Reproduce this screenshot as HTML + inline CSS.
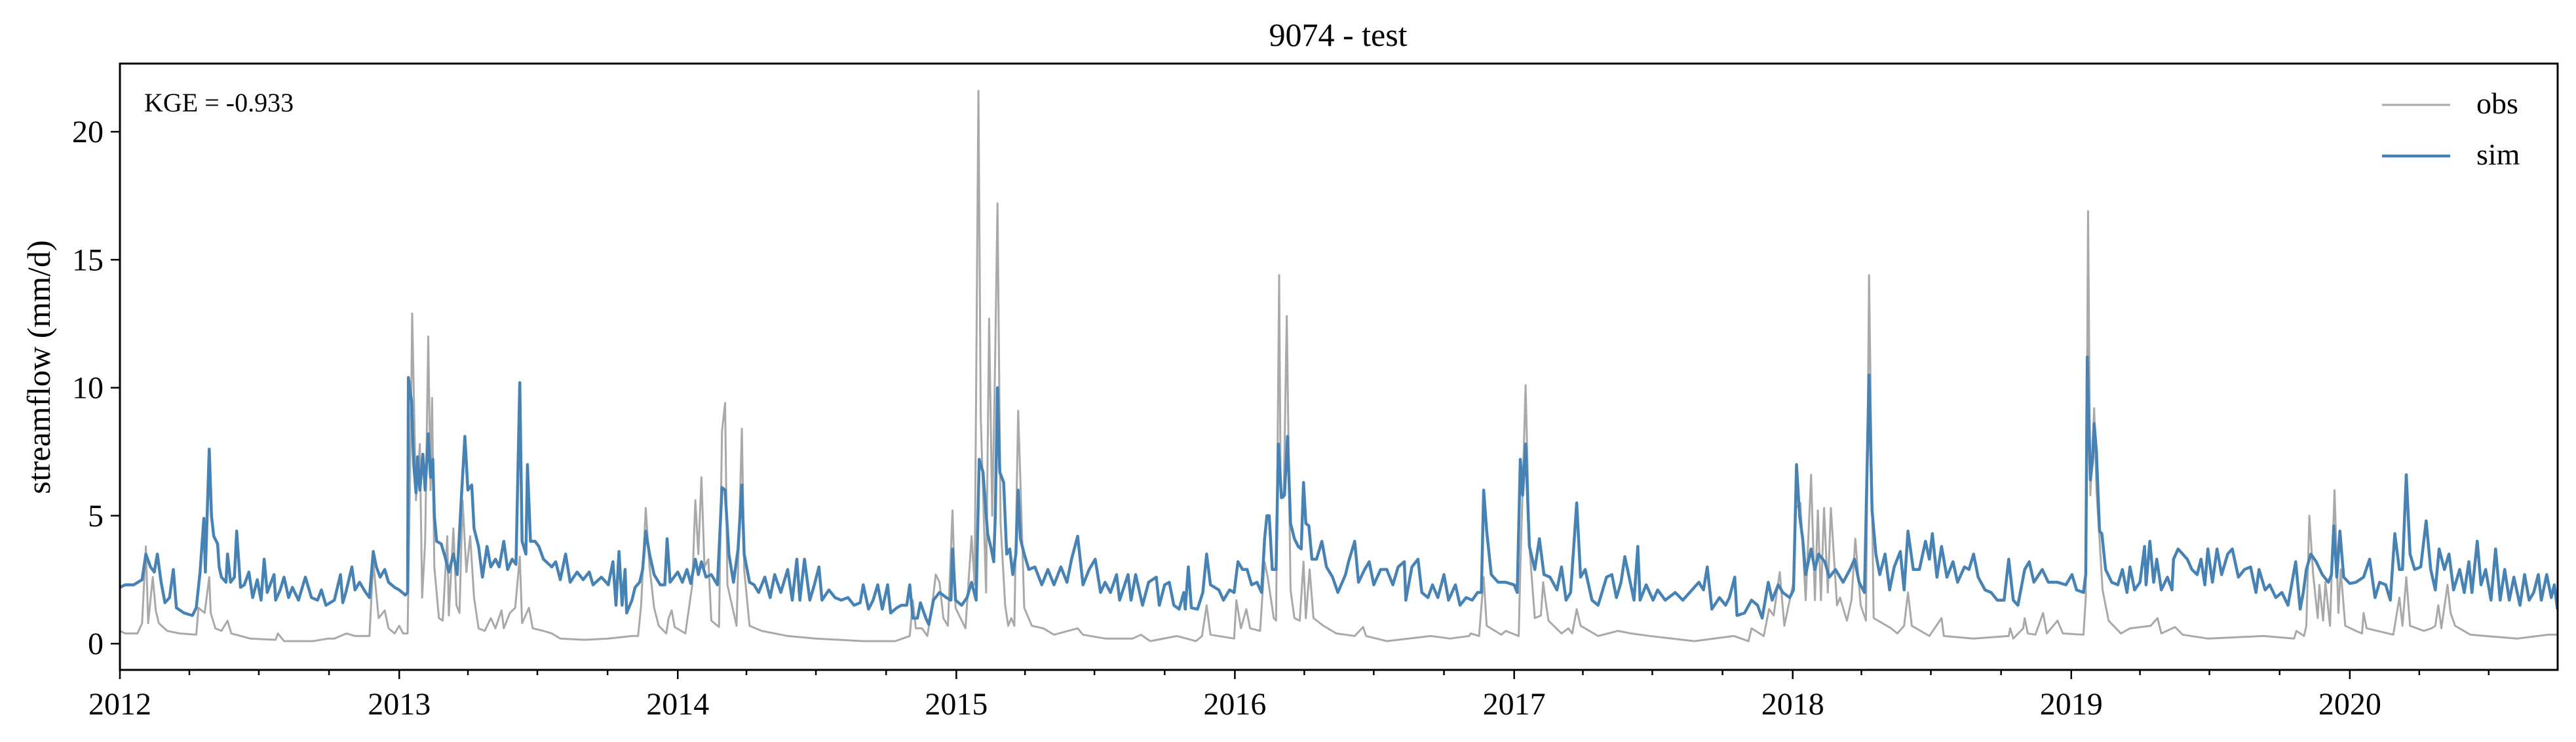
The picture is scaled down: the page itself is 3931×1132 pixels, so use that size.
<!DOCTYPE html>
<html><head><meta charset="utf-8"><style>
html,body{margin:0;padding:0;background:#fff;}
svg{display:block;font-family:"Liberation Serif",serif;}
</style></head><body>
<svg id="chart" width="3931" height="1132" viewBox="0 0 3931 1132" xmlns="http://www.w3.org/2000/svg">
<defs><clipPath id="plotclip"><rect x="183" y="97" width="3720" height="925"/></clipPath></defs>
<text x="2042" y="70" font-size="50" text-anchor="middle">9074 - test</text>
<text transform="translate(76,560) rotate(-90)" font-size="50" text-anchor="middle">streamflow (mm/d)</text>
<g id="series" clip-path="url(#plotclip)"></g>
<g id="axes"></g>
<rect x="183" y="97" width="3720" height="925" fill="none" stroke="#000" stroke-width="3"/>
<text x="220" y="170" font-size="40">KGE = -0.933</text>
<g>
<line x1="3635" y1="160" x2="3739" y2="160" stroke="#a9a9a9" stroke-width="3"/>
<text x="3779" y="173" font-size="46">obs</text>
<line x1="3635" y1="238" x2="3739" y2="238" stroke="#4682b4" stroke-width="4.5"/>
<text x="3779" y="251" font-size="46">sim</text>
</g>
</svg>
<script>
// days since 2012-01-01
const obsDays = [0,7,23,29,34,37,43,47,51,62,78,100,103,111,117,119,125,133,141,146,171,204,207,215,253,273,281,297,308,327,332,339,347,352,360,366,371,377,381,383,388,393,396,400,404,407,409,412,418,423,429,431,437,441,445,449,454,459,464,470,478,486,492,500,503,511,518,524,527,536,541,555,566,577,609,640,
671,679,683,689,694,700,706,716,719,723,727,741,750,754,758,762,766,771,775,785,789,793,796,808,815,818,825,841,875,912,974,1016,1035,1039,1043,1051,1058,1064,1069,1074,1079,1085,1091,1095,1108,1116,1120,1125,1128,1135,1139,1143,1146,1150,1154,1160,1164,1168,1172,1177,1180,1185,1195,1210,1224,1255,1262,1291,
1327,1338,1350,1385,1410,1418,1424,1429,1460,1463,1469,1476,1481,1494,1500,1504,1512,1515,1519,1521,1525,1529,1534,1539,1546,1551,1554,1559,1564,1577,1594,1618,1629,1633,1660,1718,1743,1768,1770,1781,1787,1791,1810,1816,1833,1835,1842,1847,1854,1862,1865,1868,1872,1889,1898,1903,1909,1914,1937,
1963,1980,2005,2063,2115,2134,2138,2154,2161,2167,2175,2181,2188,2193,2196,2202,2209,2216,2221,2225,2229,2233,2238,2242,2250,2254,2263,2269,2274,2281,2288,2292,2298,2304,2321,2329,2338,2343,2348,2371,2387,2390,2429,2475,2477,2481,2494,2496,2500,2510,2520,2525,2539,2546,2573,2576,2579,
2582,2587,2590,2594,2598,2606,2622,2634,2661,2670,2675,2693,2703,2736,2809,2849,2852,2862,2865,2869,2874,2880,2882,2887,2890,2896,2902,2907,2910,2916,2930,2938,2940,2944,2979,2987,2991,2996,3001,3019,3029,3034,3038,3042,3050,3054,3060,3080,3100,3141,3182,3194];
const obsValues = [0.5,0.4,0.4,0.8,3.8,0.8,2.6,1.3,0.8,0.5,0.4,0.35,1.4,1.2,2.6,1.2,0.6,0.5,0.9,0.4,0.2,0.15,0.4,0.1,0.1,0.2,0.2,0.4,0.3,0.3,3.2,1.0,1.3,0.6,0.4,0.7,0.4,0.4,8.0,12.9,5.6,7.8,1.8,4.0,12.0,6.0,9.6,3.0,1.0,0.9,4.2,1.1,4.5,1.5,1.2,5.6,2.8,4.2,1.8,0.6,0.5,1.0,0.6,1.3,0.6,1.2,1.4,3.4,0.8,1.4,0.6,0.5,0.4,0.2,0.15,0.2,
0.3,0.3,1.5,5.3,3.0,1.4,0.7,0.4,1.0,1.3,0.65,0.4,2.3,5.6,3.5,6.5,3.0,3.3,0.9,0.65,8.3,9.4,2.3,0.7,8.4,2.9,0.7,0.5,0.3,0.2,0.1,0.1,0.3,1.7,0.6,0.6,0.3,1.4,2.7,2.4,1.0,0.7,5.2,1.4,0.6,4.2,2.3,21.6,8.9,2.0,12.7,5.0,9.5,17.2,4.7,1.5,0.7,1.0,0.7,9.1,6.3,1.4,0.7,0.6,0.35,0.6,0.35,0.2,
0.2,0.35,0.1,0.3,0.1,0.3,1.5,0.35,0.2,1.7,0.6,1.35,0.6,0.5,3.2,2.6,1.0,0.9,14.4,6.0,5.7,12.8,2.1,1.0,0.9,3.2,1.0,2.9,1.0,0.7,0.4,0.3,0.65,0.3,0.1,0.3,0.2,0.3,0.4,0.3,2.6,0.7,0.35,0.5,0.3,2.9,10.1,3.8,1.0,1.1,2.4,1.7,0.9,0.4,0.6,0.4,1.35,0.7,0.3,
0.5,0.4,0.3,0.1,0.3,0.1,0.6,0.3,1.35,1.1,2.8,0.7,1.7,2.4,5.3,5.5,1.7,6.6,1.7,5.2,1.7,5.3,2.0,5.3,1.5,1.8,0.9,1.7,4.1,1.5,0.9,14.4,1.0,0.9,0.6,0.4,0.7,2.0,0.7,0.3,1.0,0.3,0.2,0.3,0.6,0.2,0.6,1.0,0.4,0.35,1.2,0.4,0.9,0.4,0.35,1.8,16.9,
5.8,9.2,6.0,4.1,2.1,0.9,0.4,0.6,0.7,1.0,0.4,0.65,0.35,0.2,0.3,0.2,0.5,0.3,0.7,5.0,2.7,1.0,2.3,0.9,2.4,0.7,6.0,1.2,2.9,0.7,0.5,0.4,1.2,0.6,0.35,1.8,0.7,2.6,0.7,0.5,0.6,0.7,1.5,0.6,2.3,1.2,0.7,0.35,0.3,0.2,0.35,0.35];
const simDays = [0,7,18,29,34,40,45,49,54,59,65,70,74,84,95,100,105,110,112,117,120,123,128,130,133,139,141,145,150,153,158,163,169,174,180,185,189,193,202,204,210,215,221,226,234,243,251,259,264,270,281,289,292,296,304,308,314,322,327,332,336,341,347,352,360,366,374,377,378,382,385,388,390,393,397,400,404,407,410,412,415,421,426,431,437,442,448,452,456,461,464,470,475,481,486,492,497,503,508,514,519,524,527,532,534,538,544,549,555,566,571,577,584,590,599,607,615,620,631,640,
646,650,654,658,662,664,671,675,681,685,689,694,700,708,714,717,721,731,737,743,748,754,758,762,768,775,783,789,793,798,804,810,815,818,825,831,837,845,852,858,866,875,881,887,891,897,904,910,916,920,929,937,945,954,962,970,974,981,987,993,999,1006,1010,1018,1024,1031,1035,1039,1045,1049,1056,1060,1066,1074,1083,1089,1091,1095,1103,1110,1116,1122,1126,1131,1137,1141,1145,1147,1150,1153,1158,1162,1166,1170,1174,1177,1180,1185,1191,1199,1208,1216,1224,1233,1241,1247,1255,1262,1270,1278,1285,1291,
1298,1306,1310,1321,1325,1331,1340,1348,1358,1362,1369,1375,1381,1388,1394,1396,1400,1404,1412,1419,1424,1429,1440,1446,1454,1460,1465,1471,1477,1483,1490,1496,1500,1503,1506,1510,1515,1518,1522,1526,1530,1534,1539,1544,1548,1551,1554,1558,1562,1568,1575,1581,1589,1596,1606,1610,1618,1623,1631,1637,1643,1652,1660,1668,1675,1683,1685,1693,1701,1706,1714,1720,1727,1735,1741,1750,1756,1764,1772,1779,1784,1787,1791,1797,1806,1816,1827,1831,1835,1838,1842,1847,1854,1860,1866,1874,1883,1889,1895,1901,1909,1914,1920,1929,1937,
1948,1955,1961,1967,1972,1977,1984,1989,1992,2000,2009,2015,2025,2038,2048,2057,2069,2075,2080,2086,2096,2104,2109,2116,2119,2129,2138,2146,2152,2160,2165,2173,2179,2188,2193,2197,2201,2205,2209,2216,2221,2226,2234,2240,2248,2258,2267,2273,2279,2286,2292,2296,2301,2306,2313,2319,2325,2333,2338,2343,2350,2358,2366,2371,2375,2381,2387,2394,2402,2408,2417,2423,2429,2435,2444,2452,2460,2469,2475,2481,2487,2496,2502,2508,2519,2527,2539,2550,2558,2564,2573,2576,
2578,2582,2585,2587,2590,2594,2597,2602,2610,2618,2624,2630,2634,2640,2647,2653,2655,2660,2665,2669,2675,2683,2689,2691,2697,2703,2709,2715,2722,2727,2732,2736,2742,2748,2754,2762,2768,2776,2784,2792,2799,2803,2811,2817,2825,2833,2841,2851,2857,2861,2865,2871,2878,2886,2894,2898,2901,2905,2909,2914,2922,2930,2940,2948,2955,2961,2969,2975,2981,2987,2991,2996,3001,3007,3015,3022,3028,3034,3039,3046,3052,3058,3066,3072,3078,3082,3089,3094,3100,3107,3113,3119,3125,3131,3137,3145,3151,3157,3163,3169,3173,3180,3186,3190,3194];
const simValues = [2.2,2.3,2.3,2.5,3.5,3.0,2.8,3.5,2.4,1.6,1.8,2.9,1.4,1.2,1.1,1.4,2.8,4.9,2.8,7.6,5.0,4.2,3.9,3.0,2.6,2.4,3.5,2.4,2.6,4.4,2.2,2.3,2.8,1.8,2.5,1.7,3.3,2.0,2.7,1.7,2.1,2.6,1.8,2.2,1.7,2.6,1.8,1.7,2.1,1.5,1.7,2.7,1.6,2.0,3.0,2.1,2.4,2.0,1.8,3.6,3.0,2.6,2.9,2.4,2.2,2.1,1.9,2.0,10.4,9.5,7.0,5.9,7.3,6.0,7.4,6.0,8.2,6.5,7.2,5.0,4.0,3.9,3.4,2.8,3.5,2.7,6.0,8.1,6.0,6.2,4.5,3.8,2.6,3.8,3.0,3.3,3.0,4.0,2.9,3.3,3.1,10.2,4.0,3.5,7.0,4.0,4.0,3.8,3.3,3.0,3.2,2.5,3.5,2.4,2.8,2.5,2.8,2.3,2.6,2.3,
3.2,1.5,3.6,1.5,2.9,1.2,1.7,2.2,2.4,2.9,4.4,3.5,2.7,2.3,2.3,4.1,2.4,2.8,2.4,2.9,2.35,3.3,2.7,3.2,2.6,2.7,2.3,6.1,6.0,3.5,2.4,3.7,6.2,3.5,2.4,2.3,2.0,2.6,1.8,2.7,2.0,2.9,1.7,3.3,1.7,3.3,1.7,2.3,3.0,1.7,2.1,1.8,1.7,1.8,1.5,1.6,2.3,1.35,1.7,2.3,1.35,2.3,1.2,1.4,1.5,1.5,2.3,1.0,1.0,1.6,1.0,0.75,1.7,2.0,1.8,1.7,3.7,1.7,1.5,1.8,2.4,1.7,7.2,6.7,4.3,3.8,3.2,4.9,10.0,6.7,6.3,3.5,3.7,2.7,3.5,6.0,4.1,3.5,2.9,3.0,2.3,2.9,2.3,3.0,2.4,3.3,4.2,2.3,2.9,3.3,2.0,2.4,
2.0,2.7,1.7,2.7,1.7,2.7,1.5,2.4,2.6,1.5,2.3,2.4,1.5,1.35,2.0,1.35,3.0,1.4,1.35,2.0,3.5,2.3,2.1,1.7,2.1,2.0,3.2,2.9,2.9,2.3,2.4,2.0,4.1,5.0,5.0,2.9,2.9,7.8,5.7,5.8,8.1,4.7,4.1,3.8,3.7,6.3,4.7,4.6,3.3,3.3,4.0,3.0,2.6,2.0,2.7,3.2,4.0,2.4,2.9,3.2,2.3,2.9,2.9,2.3,3.0,3.2,1.7,3.0,3.3,2.0,1.8,2.3,1.8,2.7,1.7,2.3,1.5,1.8,1.7,2.0,2.0,6.0,4.4,2.7,2.4,2.4,2.3,2.0,7.2,5.8,7.8,3.8,2.9,4.1,2.7,2.6,2.1,3.0,1.7,2.0,5.5,2.6,2.9,1.7,1.5,
2.6,2.7,1.8,2.4,3.4,2.7,1.7,3.8,1.7,2.3,1.7,2.1,1.7,2.0,1.7,2.0,2.4,2.1,3.0,1.35,1.8,1.5,1.8,2.6,1.1,1.2,1.7,1.5,1.0,2.4,1.7,2.3,2.0,1.8,2.1,7.0,5.0,4.1,2.7,3.7,2.9,3.5,3.2,2.6,2.9,2.4,2.9,3.3,2.4,2.0,10.5,5.2,3.5,2.7,3.5,2.1,3.0,3.6,2.1,4.4,2.9,2.9,4.0,3.3,4.3,2.6,3.8,2.6,3.2,2.4,3.0,2.9,3.5,2.6,2.1,2.0,1.7,1.7,3.3,1.7,1.5,2.9,3.2,2.4,2.9,2.4,2.4,2.3,2.7,2.1,2.0,2.7,
11.2,6.4,7.2,8.6,7.5,4.4,4.3,2.9,2.4,2.3,2.9,2.0,3.0,2.1,2.4,3.8,2.3,4.0,2.4,3.3,2.1,2.6,2.1,3.3,3.7,3.5,3.3,2.9,2.7,3.3,2.3,3.7,2.4,3.7,2.7,3.5,3.7,2.6,2.9,3.0,2.0,2.9,2.1,2.3,1.8,2.0,1.5,3.2,1.35,2.0,2.9,3.5,3.2,2.7,2.4,2.7,4.6,2.6,4.4,2.6,2.35,2.4,2.6,3.3,1.8,2.4,2.3,1.7,4.3,2.9,2.9,6.6,3.5,2.9,3.0,4.8,2.9,2.1,3.7,2.9,3.5,2.1,2.9,2.0,3.2,2.0,4.0,2.3,2.9,1.7,3.7,1.7,2.9,1.7,2.6,1.5,2.7,1.7,2.0,2.7,1.7,2.7,1.8,2.3,1.35];
const yTickValues = [0,5,10,15,20];
const yearLabels = ["2012","2013","2014","2015","2016","2017","2018","2019","2020"];

const X0=183, X1=3902.6, DAYS=3194, Y0=982, PXU=39.05;
function xScale(d){return X0+(X1-X0)*d/DAYS;}
function yScale(v){return Y0-v*PXU;}
function dayOf(y,m){return (Date.UTC(y,m,1)-Date.UTC(2012,0,1))/86400000;}
const NS="http://www.w3.org/2000/svg";
const series=document.getElementById('series');
function drawLine(days,vals,color,w,name){
  const p=document.createElementNS(NS,'polyline');
  p.setAttribute('points',days.map((d,i)=>xScale(d).toFixed(1)+','+yScale(vals[i]).toFixed(1)).join(' '));
  p.setAttribute('fill','none');p.setAttribute('stroke',color);p.setAttribute('stroke-width',w);
  p.setAttribute('stroke-linejoin','round');
  
  
  series.appendChild(p);
}
drawLine(obsDays,obsValues,'#a9a9a9',3,'obs-line');
drawLine(simDays,simValues,'#4682b4',4.5,'sim-line');

const axes=document.getElementById('axes');
function ln(x1,y1,x2,y2,name){const l=document.createElementNS(NS,'line');
 l.setAttribute('x1',x1);l.setAttribute('y1',y1);l.setAttribute('x2',x2);l.setAttribute('y2',y2);
 l.setAttribute('stroke','#000');l.setAttribute('stroke-width',2.5);
 
 
 axes.appendChild(l);}
function tx(x,y,s,anchor,name){const t=document.createElementNS(NS,'text');
 t.setAttribute('x',x);t.setAttribute('y',y);t.setAttribute('font-size',48);t.setAttribute('text-anchor',anchor);t.textContent=s;
 
 
 axes.appendChild(t);}
yTickValues.forEach(v=>{const y=yScale(v);ln(169,y,183,y,'y-tick');tx(158,y+16,String(v),'end','y-tick-label');});
yearLabels.forEach(s=>{const yr=+s;const d=dayOf(yr,0);const x=xScale(d);
  ln(x,1022,x,1036,'x-major-tick');tx(x,1090,s,'middle','x-tick-label');
  [3,6,9].forEach(m=>{const dm=dayOf(yr,m);if(dm<=DAYS){const xm=xScale(dm);ln(xm,1022,xm,1030,'x-minor-tick');}});
});
</script>
</body></html>
